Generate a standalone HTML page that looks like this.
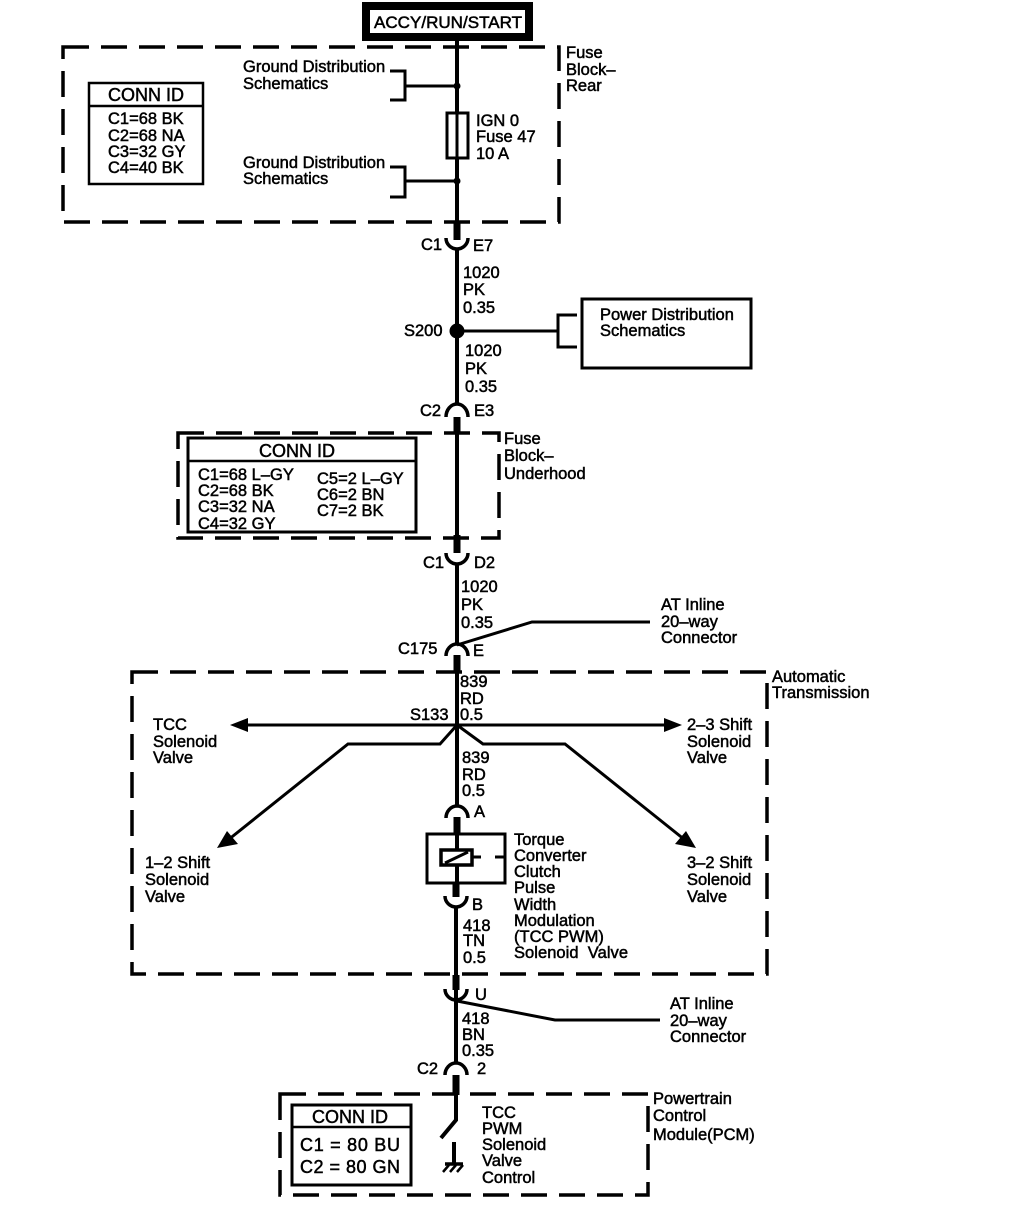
<!DOCTYPE html>
<html><head><meta charset="utf-8"><style>
html,body{margin:0;padding:0;background:#fff}
svg{display:block}
text{font-family:"Liberation Sans",sans-serif;font-size:16.5px;fill:#000;stroke:#000;stroke-width:.5;white-space:pre}
.c{font-size:18px}
.d{fill:none;stroke:#000;stroke-width:3.5;stroke-dasharray:26 12}
.l{fill:none;stroke:#000;stroke-width:3}
.t{fill:none;stroke:#000;stroke-width:7}
.m{fill:none;stroke:#000;stroke-width:4}
</style></head><body>
<svg width="1024" height="1212" viewBox="0 0 1024 1212" xmlns="http://www.w3.org/2000/svg">
<rect x="366" y="6" width="163" height="31" fill="#fff" stroke="#000" stroke-width="8"/>
<text x="374" y="28" textLength="148" lengthAdjust="spacingAndGlyphs">ACCY/RUN/START</text>

<rect class="d" x="63" y="47" width="496" height="175"/>
<rect class="d" x="178" y="433" width="321" height="105"/>
<rect class="d" x="132" y="672" width="635" height="302"/>
<rect class="d" x="280" y="1094" width="368" height="101"/>

<!-- main line -->
<path class="m" d="M457 41V222M457 250V403M457 417V550M457 565V643M457 672V805M456 908V1063M456 1093V1120L441 1138"/>
<path class="t" d="M457 222V240M457 417V433M457 535V553M457 655V672M457 817V835M456 883V897M456 975V990M456 1075V1095"/>
<!-- connectors -->
<g fill="none" stroke="#000" stroke-width="3.5">
<path d="M446 238A11 11 0 0 0 468 238"/>
<path d="M446 417A11 13 0 0 1 468 417"/>
<path d="M446 553A11 11 0 0 0 468 553"/>
<path d="M446 656A11 12 0 0 1 468 656"/>
<path d="M446 818A11 12 0 0 1 468 818"/>
<path d="M445 896A11 11 0 0 0 467 896"/>
<path d="M445 989A11 11 0 0 0 467 989"/>
<path d="M445 1075A11 12 0 0 1 467 1075"/>
</g>

<!-- Ground brackets -->
<path class="l" d="M390 71H405V100H390M405 86H457M390 167H405V197H390M405 181H457"/>
<circle cx="457" cy="86" r="3.5"/><circle cx="457" cy="181" r="3.5"/>
<rect x="447" y="113" width="21" height="45" fill="#fff" stroke="#000" stroke-width="3"/>
<path d="M457 113V158" stroke="#000" stroke-width="3"/>

<!-- S200 -->
<circle cx="457" cy="331" r="7.5"/>
<path class="l" d="M457 331H558M577 315H558V347H577"/>
<rect x="582" y="299" width="169" height="69" fill="none" stroke="#000" stroke-width="3"/>

<!-- Conn boxes -->
<rect x="89" y="83" width="114" height="101" fill="#fff" stroke="#000" stroke-width="2.5"/>
<path d="M89 106H203" stroke="#000" stroke-width="2.5"/>
<rect x="188" y="438" width="228" height="94" fill="#fff" stroke="#000" stroke-width="3"/>
<path d="M188 461H416" stroke="#000" stroke-width="2.5"/>
<rect x="292" y="1105" width="119" height="80" fill="#fff" stroke="#000" stroke-width="3"/>
<path d="M292 1127H411" stroke="#000" stroke-width="2.5"/>

<!-- leaders -->
<path class="l" d="M457 645L532 622H650M457 1001L555 1020H660"/>

<!-- S133 arrows -->
<path class="l" d="M246 725H668"/>
<path d="M230 725L248 718V732Z"/><path d="M682 725L664 718V732Z"/>
<path class="l" d="M457 725L440 744H348L228 840M457 725L483 744H565L685 840"/>
<path d="M217 848L227 831L238 844Z"/><path d="M696 848L675 844L686 831Z"/>

<!-- Solenoid -->
<rect x="427" y="834" width="78" height="49" fill="#fff" stroke="#000" stroke-width="3"/>
<path class="m" d="M457 835V849M457 866V883"/>
<rect x="441" y="850" width="31" height="15" fill="#fff" stroke="#000" stroke-width="3.5"/>
<path class="l" d="M445 863L468 852M472 857H481M495 857H505"/>

<!-- Ground -->
<path class="m" d="M454 1142V1163"/>
<path d="M445 1164H463" stroke="#000" stroke-width="3.5"/>
<path d="M449 1165L443 1172M456 1165L450 1172M463 1165L457 1172" stroke="#000" stroke-width="2.5"/>

<!-- Text -->
<text x="243" y="72">Ground Distribution</text><text x="243" y="89">Schematics</text>
<text x="243" y="168">Ground Distribution</text><text x="243" y="184">Schematics</text>
<text x="566" y="58">Fuse</text><text x="566" y="75">Block–</text><text x="566" y="91">Rear</text>
<text x="476" y="126">IGN 0</text><text x="476" y="142">Fuse 47</text><text x="476" y="159">10 A</text>
<text class="c" x="108" y="101">CONN ID</text>
<text x="108" y="124">C1=68 BK</text><text x="108" y="141">C2=68 NA</text><text x="108" y="157">C3=32 GY</text><text x="108" y="173">C4=40 BK</text>
<text x="421" y="250">C1</text><text x="473" y="251">E7</text>
<text x="463" y="278">1020</text><text x="463" y="295">PK</text><text x="463" y="313">0.35</text>
<text x="404" y="336">S200</text>
<text x="600" y="320">Power Distribution</text><text x="600" y="336">Schematics</text>
<text x="465" y="356">1020</text><text x="465" y="374">PK</text><text x="465" y="392">0.35</text>
<text x="420" y="416">C2</text><text x="474" y="416">E3</text>
<text class="c" x="259" y="457">CONN ID</text>
<text x="198" y="480">C1=68 L–GY</text><text x="198" y="496">C2=68 BK</text><text x="198" y="512">C3=32 NA</text><text x="198" y="529">C4=32 GY</text>
<text x="317" y="484">C5=2 L–GY</text><text x="317" y="500">C6=2 BN</text><text x="317" y="516">C7=2 BK</text>
<text x="504" y="444">Fuse</text><text x="504" y="461">Block–</text><text x="504" y="479">Underhood</text>
<text x="423" y="568">C1</text><text x="474" y="568">D2</text>
<text x="461" y="592">1020</text><text x="461" y="610">PK</text><text x="461" y="628">0.35</text>
<text x="661" y="610">AT Inline</text><text x="661" y="627">20–way</text><text x="661" y="643">Connector</text>
<text x="398" y="654">C175</text><text x="473" y="656">E</text>
<text x="772" y="682">Automatic</text><text x="772" y="698">Transmission</text>
<text x="460" y="687">839</text><text x="460" y="704">RD</text><text x="460" y="720">0.5</text>
<text x="410" y="720">S133</text>
<text x="153" y="730">TCC</text><text x="153" y="747">Solenoid</text><text x="153" y="763">Valve</text>
<text x="687" y="730">2–3 Shift</text><text x="687" y="747">Solenoid</text><text x="687" y="763">Valve</text>
<text x="462" y="763">839</text><text x="462" y="780">RD</text><text x="462" y="796">0.5</text>
<text x="474" y="817">A</text>
<text x="145" y="868">1–2 Shift</text><text x="145" y="885">Solenoid</text><text x="145" y="902">Valve</text>
<text x="687" y="868">3–2 Shift</text><text x="687" y="885">Solenoid</text><text x="687" y="902">Valve</text>
<text x="514" y="845">Torque</text><text x="514" y="861">Converter</text><text x="514" y="877">Clutch</text><text x="514" y="893">Pulse</text><text x="514" y="910">Width</text><text x="514" y="926">Modulation</text><text x="514" y="942">(TCC PWM)</text><text x="514" y="958" textLength="114">Solenoid  Valve</text>
<text x="472" y="910">B</text>
<text x="463" y="931">418</text><text x="463" y="946">TN</text><text x="463" y="963">0.5</text>
<text x="475" y="1000">U</text>
<text x="462" y="1024">418</text><text x="462" y="1040">BN</text><text x="462" y="1056">0.35</text>
<text x="670" y="1009">AT Inline</text><text x="670" y="1026">20–way</text><text x="670" y="1042">Connector</text>
<text x="417" y="1074">C2</text><text x="477" y="1074">2</text>
<text x="653" y="1104">Powertrain</text><text x="653" y="1121">Control</text><text x="653" y="1140">Module(PCM)</text>
<text class="c" x="312" y="1123">CONN ID</text>
<text class="c" x="300" y="1151" textLength="100">C1 = 80 BU</text><text class="c" x="300" y="1173" textLength="100">C2 = 80 GN</text>
<text x="482" y="1118">TCC</text><text x="482" y="1134">PWM</text><text x="482" y="1150">Solenoid</text><text x="482" y="1166">Valve</text><text x="482" y="1183">Control</text>
</svg>
</body></html>
